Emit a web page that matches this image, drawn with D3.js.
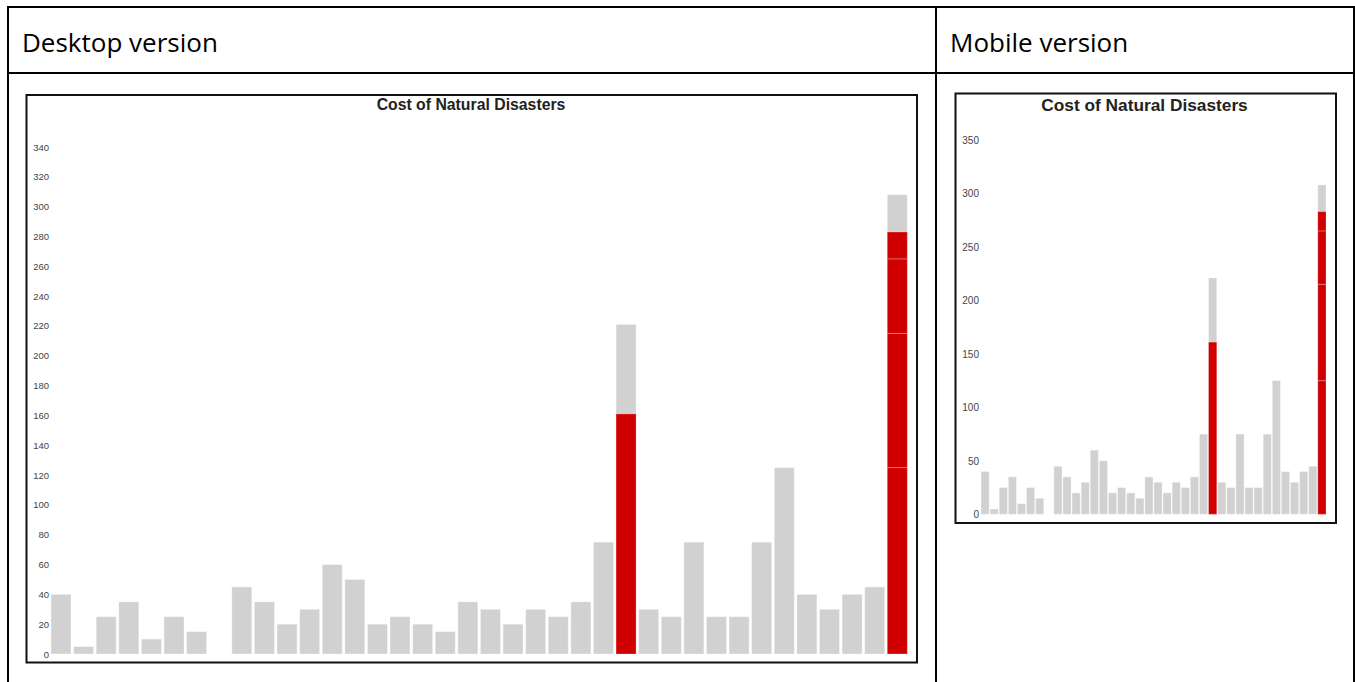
<!DOCTYPE html>
<html>
<head>
<meta charset="utf-8">
<script src="https://cdn.jsdelivr.net/npm/d3@7"></script>
<style>
  html, body { margin: 0; padding: 0; background: #fff; }
  svg { display: block; }
</style>
</head>
<body>
<svg id="page" width="1355" height="682"></svg>
<script>
// ---- data ----
const chartTitle = "Cost of Natural Disasters";
const categories = d3.range(1, 39); // 38 unnamed events
const totalValues = [40, 5, 25, 35, 10, 25, 15, 0, 45, 35, 20, 30, 60, 50, 20, 25, 20, 15, 35, 30,
                     20, 30, 25, 35, 75, 221, 30, 25, 75, 25, 25, 75, 125, 40, 30, 40, 45, 308];
// highlighted (red) stacked segments: bar index, from, to
const redBar  = [25, 37, 37, 37, 37];
const redFrom = [0, 0, 125, 215, 265];
const redTo   = [161, 125, 215, 265, 283];
const desktopTicks = d3.range(0, 341, 20);
const mobileTicks = d3.range(0, 351, 50);
const headerLabels = ["Desktop version", "Mobile version"];

const svg = d3.select("#page");

// ---- table frame ----
const frame = svg.append("g").attr("stroke", "#000").attr("stroke-width", 2);
frame.append("line").attr("x1", 8).attr("x2", 1355).attr("y1", 7).attr("y2", 7);
frame.append("line").attr("x1", 8).attr("x2", 1355).attr("y1", 73).attr("y2", 73);
frame.append("line").attr("x1", 8).attr("x2", 8).attr("y1", 6).attr("y2", 682);
frame.append("line").attr("x1", 936).attr("x2", 936).attr("y1", 6).attr("y2", 682);
frame.append("line").attr("x1", 1354).attr("x2", 1354).attr("y1", 6).attr("y2", 682);

svg.selectAll("text.header").data(headerLabels).join("text")
  .attr("class", "header")
  .attr("x", (d, i) => i === 0 ? 22 : 950)
  .attr("y", 52)
  .attr("font-family", "'Open Sans', sans-serif")
  .attr("font-size", 26)
  .attr("fill", "#000")
  .text(d => d);

function drawChart(cfg) {
  const g = svg.append("g");
  g.append("rect")
    .attr("x", cfg.box[0]).attr("y", cfg.box[1])
    .attr("width", cfg.box[2] - cfg.box[0]).attr("height", cfg.box[3] - cfg.box[1])
    .attr("fill", "#fff").attr("stroke", "#111").attr("stroke-width", 2);

  g.append("text")
    .attr("x", cfg.titleX).attr("y", cfg.titleY)
    .attr("text-anchor", "middle")
    .attr("font-family", "'Liberation Sans', Arial, sans-serif")
    .attr("font-weight", "bold")
    .attr("font-size", cfg.titleSize)
    .attr("fill", "#222")
    .text(chartTitle);

  const x = d3.scaleBand().domain(categories).range(cfg.xRange)
    .paddingInner(cfg.pad).paddingOuter(0);
  const y = d3.scaleLinear().domain([0, cfg.yMax]).range(cfg.yRange);

  const axis = d3.axisLeft(y).tickValues(cfg.ticks).tickSize(0).tickPadding(0);
  const ag = g.append("g").attr("transform", `translate(${cfg.axisX},0)`).call(axis);
  ag.select(".domain").remove();
  ag.selectAll("text")
    .attr("font-family", "'Liberation Sans', Arial, sans-serif")
    .attr("font-size", cfg.tickSize)
    .attr("fill", "#444");

  g.append("g").selectAll("rect").data(totalValues).join("rect")
    .attr("x", (d, i) => x(categories[i]))
    .attr("width", x.bandwidth())
    .attr("y", d => y(d))
    .attr("height", d => y(0) - y(d))
    .attr("fill", "#d1d1d1")
    .attr("stroke", "rgba(255,255,255,0.35)")
    .attr("stroke-width", 1);

  g.append("g").selectAll("rect").data(redBar).join("rect")
    .attr("x", d => x(categories[d]))
    .attr("width", x.bandwidth())
    .attr("y", (d, i) => y(redTo[i]))
    .attr("height", (d, i) => y(redFrom[i]) - y(redTo[i]))
    .attr("fill", "#d00000")
    .attr("stroke", "rgba(255,255,255,0.25)")
    .attr("stroke-width", 1);
}

drawChart({
  box: [26.5, 95, 917, 662.5],
  titleX: 471, titleY: 109.5, titleSize: 15.8,
  xRange: [51, 907.3], pad: 0.115,
  yMax: 340, yRange: [654, 147],
  ticks: desktopTicks, axisX: 49, tickSize: 9.5
});

drawChart({
  box: [955.5, 93.5, 1336, 523],
  titleX: 1144.5, titleY: 110.5, titleSize: 17.3,
  xRange: [981, 1326], pad: 0.1,
  yMax: 350, yRange: [514.3, 140],
  ticks: mobileTicks, axisX: 979, tickSize: 10
});
</script>
</body>
</html>
